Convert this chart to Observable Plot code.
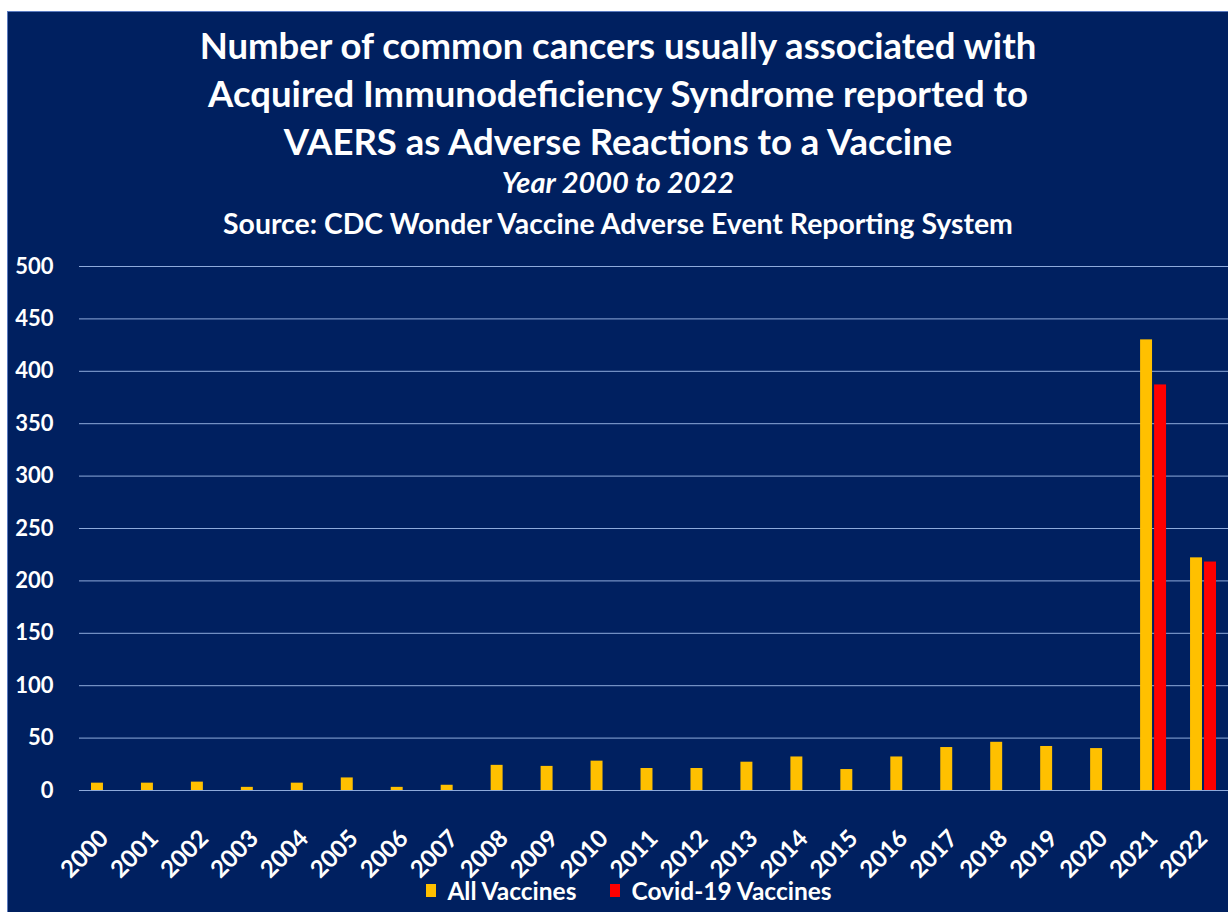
<!DOCTYPE html>
<html>
<head>
<meta charset="utf-8">
<script src="https://cdn.jsdelivr.net/npm/d3@7"></script>
<script src="https://cdn.jsdelivr.net/npm/@observablehq/plot@0.6"></script>
<style>
  html, body { margin: 0; padding: 0; background: #ffffff; }
  body { width: 1228px; height: 912px; position: relative; overflow: hidden; font-family: Lato, "Open Sans", sans-serif; }
  #panel { position: absolute; left: 7px; top: 11px; width: 1221px; height: 901px; background: #002060; border-top: 1px solid #5b7bc0; border-left: 1px solid #5b7bc0; box-sizing: border-box; overflow: hidden; }
  .t { position: absolute; left: 0; width: 100%; text-align: center; color: #ffffff; font-weight: bold; white-space: nowrap; }
  #chart { position: absolute; left: 0; top: 233px; }
  #chart svg { overflow: visible; }
  #chart g[aria-label^="x-axis"] { font-size: 24px; }
  #legend { position: absolute; left: 0; width: 100%; top: 864px; height: 28px; display: flex; justify-content: center; align-items: center; color: #fff; font-weight: bold; font-size: 24.5px; padding-left: 22px; box-sizing: border-box; }
  .item { display: flex; align-items: center; margin: 0 17px; }
  .sw { width: 10px; height: 13px; margin-right: 11px; }
</style>
</head>
<body>
<div id="panel">
  <div class="t" style="top:9px; font-size:36.5px; line-height:48px;">Number of common cancers usually associated with<br>Acquired Immunodeficiency Syndrome reported to<br>VAERS as Adverse Reactions to a Vaccine</div>
  <div class="t" style="top:155px; font-size:29px; line-height:30px; font-style:italic;">Year 2000 to 2022</div>
  <div class="t" style="top:196px; font-size:28.4px; line-height:30px;">Source: CDC Wonder Vaccine Adverse Event Reporting System</div>
  <div id="chart"></div>
  <div id="legend"></div>
</div>
<script>
const years = ["2000","2001","2002","2003","2004","2005","2006","2007","2008","2009","2010","2011","2012","2013","2014","2015","2016","2017","2018","2019","2020","2021","2022"];
const allVaccines = [7,7,8,3,7,12,3,5,24,23,28,21,21,27,32,20,32,41,46,42,40,430,222];
const covidVaccines = [0,0,0,0,0,0,0,0,0,0,0,0,0,0,0,0,0,0,0,0,0,387,218];
const seriesNames = ["All Vaccines","Covid-19 Vaccines"];
const seriesColors = ["#ffc000","#ff0000"];
const yTicks = [0,50,100,150,200,250,300,350,400,450,500];

const rows = [];
years.forEach((yr, i) => {
  rows.push({year: yr, series: seriesNames[0], value: allVaccines[i]});
  rows.push({year: yr, series: seriesNames[1], value: covidVaccines[i]});
});

const barOpts = (k, shift) => ({
  filter: d => d.series === seriesNames[k] && d.value > 0,
  x: "year", y: "value", fill: "series",
  insetLeft: 19, insetRight: 19, dx: shift
});

const chart = Plot.plot({
  width: 1220,
  height: 640,
  marginLeft: 71,
  marginRight: 0,
  marginTop: 21,
  marginBottom: 95,
  style: {background: "transparent", color: "#ffffff", fontFamily: "Lato, 'Open Sans', sans-serif", fontWeight: "bold", fontSize: "22px", overflow: "visible"},
  x: {domain: years, padding: 0, round: false, tickRotate: -45, tickSize: 0, tickPadding: 44, label: null},
  y: {domain: [0, 500], ticks: yTicks, tickSize: 0, tickPadding: 26, label: null},
  color: {domain: seriesNames, range: seriesColors},
  marks: [
    Plot.ruleY(yTicks, {stroke: "#8eaadb", strokeWidth: 1}),
    Plot.barY(rows, barOpts(0, -7)),
    Plot.barY(rows, barOpts(1, 7))
  ]
});
document.getElementById("chart").appendChild(chart);

const legend = document.getElementById("legend");
seriesNames.forEach((name, i) => {
  const item = document.createElement("div");
  item.className = "item";
  const sw = document.createElement("div");
  sw.className = "sw";
  sw.style.background = seriesColors[i];
  const label = document.createElement("span");
  label.textContent = name;
  item.appendChild(sw);
  item.appendChild(label);
  legend.appendChild(item);
});
</script>
</body>
</html>
